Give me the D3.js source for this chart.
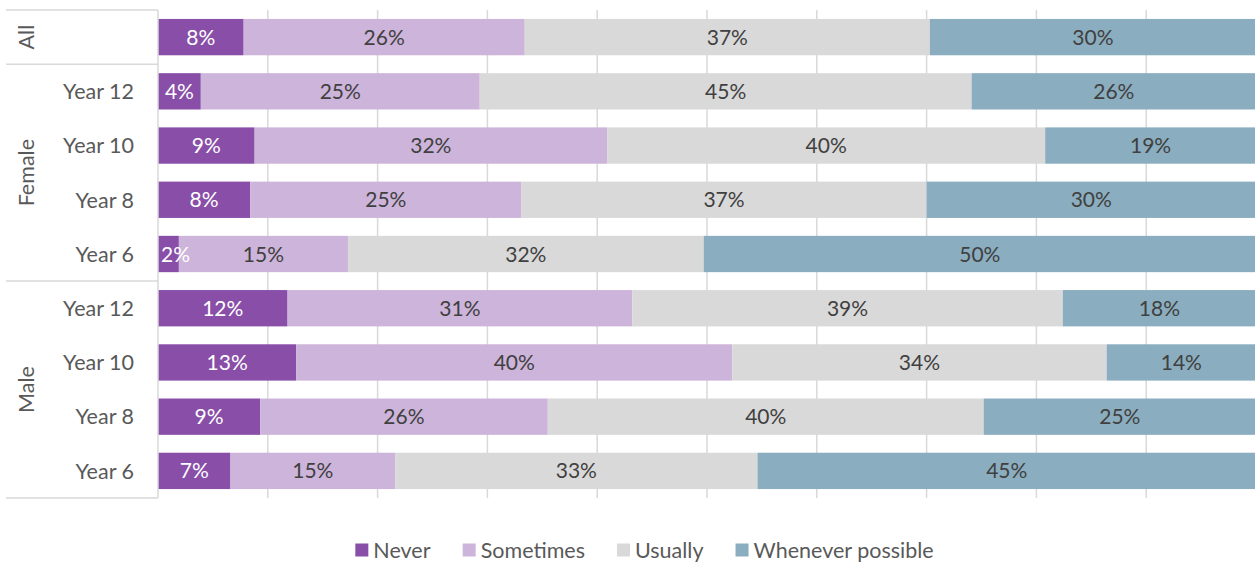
<!DOCTYPE html>
<html><head><meta charset="utf-8">
<script src="https://cdn.jsdelivr.net/npm/d3@7"></script>
<style>
body{margin:0;background:#fff;}
svg{display:block;font-family:Lato, "Open Sans", sans-serif;}
</style></head>
<body><svg id="c" width="1255" height="562"></svg>
<script>
const rows = ["All|All","Female|Year 12","Female|Year 10","Female|Year 8","Female|Year 6","Male|Year 12","Male|Year 10","Male|Year 8","Male|Year 6"];
const rowLabels = ["","Year 12","Year 10","Year 8","Year 6","Year 12","Year 10","Year 8","Year 6"];
const groups = ["All","Female","Male"];
const groupRows = [[0,0],[1,4],[5,8]];
const seriesNames = ["Never","Sometimes","Usually","Whenever possible"];
const never     = [7.8, 3.9, 8.8, 8.4, 1.9, 11.8, 12.6, 9.3, 6.6];
const sometimes = [25.6,25.4,32.1,24.7,15.4,31.4,39.7,26.2,15.0];
const usually   = [36.9,44.8,39.9,36.9,32.4,39.2,34.1,39.7,33.0];
const whenever  = [29.7,25.9,19.2,30.0,50.3,17.6,13.6,24.8,45.4];
const xTicks = [0,10,20,30,40,50,60,70,80,90,100];
const colors = ["#884ea8","#cdb4da","#d9d9d9","#8aadbf"];
const textColors = ["#ffffff","#404040","#404040","#404040"];

const svg = d3.select("#c");
const x = d3.scaleLinear().domain([0,100]).range([158,1256]);
const y = d3.scaleBand().domain(rows).range([10,498]).paddingInner(0.33).paddingOuter(0.165);

// gridlines
svg.append("g").selectAll("line").data(xTicks.slice(1)).join("line")
  .attr("x1",d=>x(d)).attr("x2",d=>x(d)).attr("y1",10).attr("y2",498)
  .attr("stroke","#d9d9d9").attr("stroke-width",1.5);

// data
const table = rows.map((r,i)=>({row:r, Never:never[i], Sometimes:sometimes[i], Usually:usually[i], "Whenever possible":whenever[i]}));
const stack = d3.stack().keys(seriesNames)(table);

const g = svg.append("g");
stack.forEach((layer,k)=>{
  g.append("g").selectAll("rect").data(layer).join("rect")
    .attr("x",d=>x(d[0])).attr("width",d=>x(d[1])-x(d[0]))
    .attr("y",d=>y(d.data.row)).attr("height",y.bandwidth())
    .attr("fill",colors[k]);
});
stack.forEach((layer,k)=>{
  g.append("g").selectAll("text").data(layer).join("text")
    .attr("x",d=>(x(d[0])+x(d[1]))/2).attr("y",d=>y(d.data.row)+y.bandwidth()/2)
    .attr("dy","0.36em").attr("text-anchor","middle")
    .attr("fill",textColors[k]).attr("font-size",21)
    .text(d=>Math.round(d[1]-d[0])+"%")
    .each(function(){
      const w = this.getComputedTextLength();
      const cxv = +this.getAttribute("x");
      if (cxv - w/2 < 161) this.setAttribute("x", 161 + w/2);
    });
});

// axis line & left boxes
const ax = svg.append("g").attr("stroke","#d9d9d9").attr("stroke-width",1.5);
ax.append("line").attr("x1",158).attr("x2",158).attr("y1",10).attr("y2",498);
const bounds = groupRows.map(([a,b])=>[y(rows[a]) - y.step()*0.165, y(rows[b]) + y.bandwidth() + y.step()*0.165]);
const hLines = [bounds[0][0], bounds[0][1], bounds[1][1], bounds[2][1]];
ax.selectAll("line.h").data(hLines).join("line").attr("class","h")
  .attr("x1",6).attr("x2",158).attr("y1",d=>d).attr("y2",d=>d);

// row labels
svg.append("g").selectAll("text").data(rows).join("text")
  .attr("x",134).attr("y",d=>y(d)+y.bandwidth()/2).attr("dy","0.36em")
  .attr("text-anchor","end").attr("fill","#595959").attr("font-size",21.5)
  .text((d,i)=>rowLabels[i]);

// group labels
svg.append("g").selectAll("text").data(groups).join("text")
  .attr("transform",(d,i)=>`translate(26,${(bounds[i][0]+bounds[i][1])/2}) rotate(-90)`)
  .attr("dy","0.36em").attr("text-anchor","middle").attr("fill","#595959").attr("font-size",21.5)
  .text(d=>d);

// legend
const lg = svg.append("g");
const items = lg.selectAll("g").data(seriesNames).join("g");
items.append("rect").attr("width",13).attr("height",13).attr("y",-6.5).attr("fill",(d,i)=>colors[i]);
items.append("text").attr("x",18).attr("dy","0.36em").attr("fill","#595959").attr("font-size",21.5).text(d=>d);
let cx = 0; const pos=[];
items.each(function(){ pos.push(cx); cx += this.getBBox().width + 32; });
const total = cx - 32;
const start = 644.5 - total/2;
items.attr("transform",(d,i)=>`translate(${start+pos[i]},550)`);
</script></body></html>
